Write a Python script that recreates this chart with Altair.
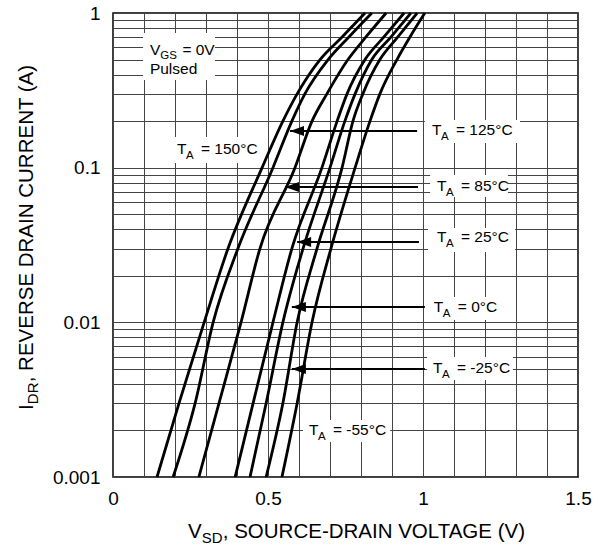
import altair as alt
import pandas as pd

FONT = "Liberation Sans"

# ---- data ----
I_LEVELS = [0.001, 0.003, 0.01, 0.03, 0.1, 0.2, 0.3, 0.5, 0.7, 1.0]
TEMPS = ["150°C", "125°C", "85°C", "25°C", "0°C", "-25°C", "-55°C"]
V_150 = [0.142, 0.213, 0.294, 0.371, 0.481, 0.548, 0.594, 0.668, 0.739, 0.813]
V_125 = [0.194, 0.265, 0.323, 0.403, 0.516, 0.577, 0.619, 0.694, 0.761, 0.835]
V_85 = [0.277, 0.342, 0.413, 0.474, 0.587, 0.642, 0.690, 0.758, 0.816, 0.881]
V_25 = [0.394, 0.452, 0.516, 0.577, 0.674, 0.723, 0.755, 0.813, 0.874, 0.939]
V_0 = [0.442, 0.494, 0.548, 0.613, 0.700, 0.748, 0.781, 0.835, 0.897, 0.961]
V_M25 = [0.494, 0.548, 0.594, 0.658, 0.739, 0.774, 0.806, 0.861, 0.919, 0.981]
V_M55 = [0.545, 0.594, 0.642, 0.703, 0.781, 0.829, 0.861, 0.916, 0.958, 1.006]
SERIES = [V_150, V_125, V_85, V_25, V_0, V_M25, V_M55]

X_GRID = [round(i * 0.1, 1) for i in range(16)]
Y_GRID = [m * 10.0 ** e for e in (-3, -2, -1) for m in range(1, 10)] + [1.0]

# ---- annotations (data units) ----
LBL_TEXT = ["= 150°C", "= 125°C", "= 85°C", "= 25°C", "= 0°C", "= -25°C", "= -55°C"]
LBL_X = [0.2065, 1.029, 1.045, 1.045, 1.035, 1.032, 0.632]
LBL_Y = [0.1226, 0.1627, 0.0707, 0.0331, 0.01166, 0.004704, 0.001869]
BOX_X1 = [0.190, 1.006, 1.023, 1.016, 1.013, 1.013, 0.613, 0.097]
BOX_X2 = [0.474, 1.313, 1.274, 1.297, 1.248, 1.290, 0.894, 0.329]
BOX_Y1 = [0.1579, 0.2033, 0.0896, 0.0407, 0.01458, 0.005971, 0.002336, 0.7424]
BOX_Y2 = [0.1072, 0.1443, 0.0646, 0.0285, 0.01035, 0.004238, 0.001684, 0.3688]
ARR_Y = [0.1726, 0.0750, 0.0331, 0.01257, 0.00499]
ARR_TIP = [0.571, 0.555, 0.594, 0.577, 0.577]
ARR_TAIL = [0.981, 0.984, 0.987, 1.006, 1.006]
VGS_X = [0.119]
VGS_Y = [0.5353]
PULSED_Y = [0.4033]

rows = []
for t, vs in zip(TEMPS, SERIES):
    for i, v in zip(I_LEVELS, vs):
        rows.append({"temp": t, "v": v, "i": i})
curves = pd.DataFrame(rows)

xs = alt.Scale(domain=[0, 1.5], nice=False, zero=False)
ys = alt.Scale(type="log", domain=[0.001, 1], nice=False)

xaxis = alt.Axis(values=X_GRID, grid=True, gridColor="#444444", gridWidth=1, gridOpacity=1,
                 ticks=False, domain=False, format="~g",
                 labelExpr="indexof(['0','0.5','1','1.5'], datum.label) >= 0 ? datum.label : ''",
                 labelFont=FONT, labelFontSize=19, labelColor="black", labelPadding=12,
                 labelFlush=False, labelOverlap=False, title=None)
yaxis = alt.Axis(values=Y_GRID, grid=True, gridColor="#444444", gridWidth=1, gridOpacity=1,
                 ticks=False, domain=False, format="~g",
                 labelExpr="indexof(['0.001','0.01','0.1','1'], datum.label) >= 0 ? datum.label : ''",
                 labelFont=FONT, labelFontSize=19, labelColor="black", labelPadding=13,
                 labelFlush=False, labelOverlap=False, title=None)

def X(field):
    return alt.X(field, scale=xs, axis=xaxis)

def Y(field):
    return alt.Y(field, scale=ys, axis=yaxis)

lines = alt.Chart(curves).mark_line(color="black", strokeWidth=2.8, interpolate="monotone").encode(
    x=X("v:Q"), y=Y("i:Q"), detail="temp:N", order="i:Q",
)

boxes_df = pd.DataFrame({"x1": BOX_X1, "x2": BOX_X2, "y1": BOX_Y1, "y2": BOX_Y2})
boxes = alt.Chart(boxes_df).mark_rect(color="white").encode(
    x=X("x1:Q"), x2="x2:Q", y=Y("y1:Q"), y2="y2:Q",
)

arr_df = pd.DataFrame({"tip": ARR_TIP, "tail": ARR_TAIL, "y": ARR_Y})
arrows = alt.Chart(arr_df).mark_rule(color="black", strokeWidth=2).encode(
    x=X("tip:Q"), x2="tail:Q", y=Y("y:Q"),
)
heads = alt.Chart(arr_df).mark_point(
    shape="M 0 0 L 2 -0.72 L 2 0.72 Z", filled=True, color="black", opacity=1, size=196, strokeWidth=0
).encode(x=X("tip:Q"), y=Y("y:Q"))

lbl_df = pd.DataFrame({"x": LBL_X, "y": LBL_Y, "rest": LBL_TEXT})
base_lbl = alt.Chart(lbl_df).encode(x=X("x:Q"), y=Y("y:Q"))
t_T = base_lbl.mark_text(align="left", baseline="alphabetic", font=FONT, fontSize=15.5, color="black").encode(text=alt.value("T"))
t_A = base_lbl.mark_text(align="left", baseline="alphabetic", font=FONT, fontSize=11.5, dx=9.0, dy=5, color="black").encode(text=alt.value("A"))
t_R = base_lbl.mark_text(align="left", baseline="alphabetic", font=FONT, fontSize=15.5, dx=24, color="black").encode(text="rest:N")

vgs_df = pd.DataFrame({"x": VGS_X, "y": VGS_Y, "y2": PULSED_Y})
base_v = alt.Chart(vgs_df).encode(x=X("x:Q"))
v_V = base_v.mark_text(align="left", baseline="alphabetic", font=FONT, fontSize=15.5).encode(y=Y("y:Q"), text=alt.value("V"))
v_GS = base_v.mark_text(align="left", baseline="alphabetic", font=FONT, fontSize=11.5, dx=10.4, dy=4).encode(y=Y("y:Q"), text=alt.value("GS"))
v_R = base_v.mark_text(align="left", baseline="alphabetic", font=FONT, fontSize=15.5, dx=32.5).encode(y=Y("y:Q"), text=alt.value("= 0V"))
v_P = base_v.mark_text(align="left", baseline="alphabetic", font=FONT, fontSize=15.5).encode(y=Y("y2:Q"), text=alt.value("Pulsed"))

one = alt.Data(values=[{"a": 1}])
xt1 = alt.Chart(one).mark_text(x=75, y=525, align="left", baseline="alphabetic", font=FONT, fontSize=20.5).encode(text=alt.value("V"))
xt2 = alt.Chart(one).mark_text(x=75, y=525, dx=13.7, dy=5, align="left", baseline="alphabetic", font=FONT, fontSize=15).encode(text=alt.value("SD"))
xt3 = alt.Chart(one).mark_text(x=75, y=525, dx=34.8, align="left", baseline="alphabetic", font=FONT, fontSize=20.5).encode(text=alt.value(", SOURCE-DRAIN VOLTAGE (V)"))
yt1 = alt.Chart(one).mark_text(x=-80, y=397, angle=270, align="left", baseline="alphabetic", font=FONT, fontSize=20.5).encode(text=alt.value("I"))
yt2 = alt.Chart(one).mark_text(x=-80, y=397, angle=270, dx=5.8, dy=5, align="left", baseline="alphabetic", font=FONT, fontSize=15).encode(text=alt.value("DR"))
yt3 = alt.Chart(one).mark_text(x=-80, y=397, angle=270, dx=27.7, align="left", baseline="alphabetic", font=FONT, fontSize=20.5).encode(text=alt.value(", REVERSE DRAIN CURRENT (A)"))

chart = alt.layer(
    boxes, lines, arrows, heads, t_T, t_A, t_R, v_V, v_GS, v_R, v_P,
    xt1, xt2, xt3, yt1, yt2, yt3,
).properties(
    width=465, height=464,
    autosize=alt.AutoSizeParams(type="none"),
    padding={"left": 113, "top": 13, "right": 27, "bottom": 68},
    background="white",
).configure_view(stroke="black", strokeWidth=1.5)

chart.save("out.html", embed_options={"renderer": "svg", "actions": False})
